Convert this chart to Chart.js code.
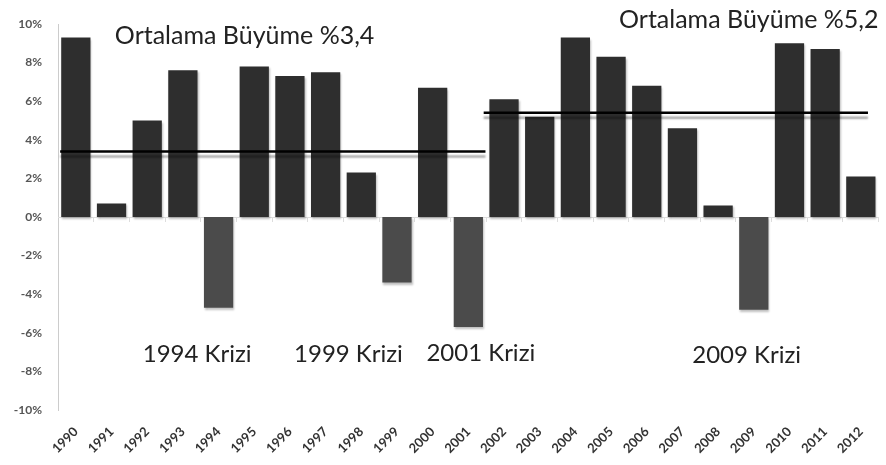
<!DOCTYPE html>
<html>
<head>
<meta charset="utf-8">
<script src="https://cdn.jsdelivr.net/npm/chart.js@4"></script>
<style>
  html, body { margin: 0; padding: 0; background: #fff; }
  #wrap { width: 886px; height: 465px; }
</style>
</head>
<body>
<div id="wrap"><canvas id="growthChart"></canvas></div>
<script>
// Yillar ve buyume oranlari (%)
const years = ['1990','1991','1992','1993','1994','1995','1996','1997','1998','1999','2000','2001',
               '2002','2003','2004','2005','2006','2007','2008','2009','2010','2011','2012'];
const growth = [9.3, 0.7, 5.0, 7.6, -4.7, 7.8, 7.3, 7.5, 2.3, -3.4, 6.7, -5.7,
                6.1, 5.2, 9.3, 8.3, 6.8, 4.6, 0.6, -4.8, 9.0, 8.7, 2.1];
const yTicks = [-10, -8, -6, -4, -2, 0, 2, 4, 6, 8, 10];

// ortalama cizgileri (x: kategori indeksi)
const avg1 = [{x: -0.44, y: 3.4}, {x: 11.48, y: 3.4}];
const avg2 = [{x: 11.43, y: 5.4}, {x: 22.2, y: 5.4}];

// metin notlari
const notes = [
  {text: 'Ortalama Büyüme %3,4', x: 4.73, y: 9.4, size: 25},
  {text: 'Ortalama Büyüme %5,2', x: 18.86, y: 10.2, size: 25},
  {text: '1994 Krizi', x: 3.4, y: -7.1, size: 24},
  {text: '1999 Krizi', x: 7.64, y: -7.1, size: 24},
  {text: '2001 Krizi', x: 11.35, y: -7.05, size: 24},
  {text: '2009 Krizi', x: 18.8, y: -7.15, size: 24}
];

const shadowPlugin = {
  id: 'shadow',
  beforeDatasetDraw(chart, args) {
    const ctx = chart.ctx;
    ctx.save();
    if (args.meta.type === 'line') {
      ctx.shadowColor = 'rgba(0,0,0,0.35)';
      ctx.shadowOffsetY = 5;
      ctx.shadowBlur = 2;
    } else {
      ctx.shadowColor = 'rgba(0,0,0,0.25)';
      ctx.shadowOffsetX = 1;
      ctx.shadowOffsetY = 2;
      ctx.shadowBlur = 2;
    }
  },
  afterDatasetDraw(chart) {
    chart.ctx.restore();
  }
};

const notesPlugin = {
  id: 'notes',
  afterDatasetsDraw(chart) {
    const ctx = chart.ctx;
    const xs = chart.scales.xl, ys = chart.scales.y;
    ctx.save();
    ctx.fillStyle = '#222';
    ctx.textAlign = 'center';
    ctx.textBaseline = 'middle';
    notes.forEach(n => {
      ctx.font = n.size + 'px Lato';
      ctx.fillText(n.text, xs.getPixelForValue(n.x), ys.getPixelForValue(n.y));
    });
    ctx.restore();
  }
};

new Chart(document.getElementById('growthChart'), {
  data: {
    labels: years,
    datasets: [
      {
        type: 'bar',
        data: growth,
        backgroundColor: growth.map(v => v < 0 ? '#4b4b4b' : '#2e2e2e'),
        grouped: false,
        barPercentage: 0.82,
        categoryPercentage: 1.0,
        order: 2
      },
      {
        type: 'line', xAxisID: 'xl', data: avg1,
        borderColor: '#000', borderWidth: 2.5, pointRadius: 0, order: 1
      },
      {
        type: 'line', xAxisID: 'xl', data: avg2,
        borderColor: '#000', borderWidth: 2.5, pointRadius: 0, order: 1
      }
    ]
  },
  options: {
    responsive: true,
    maintainAspectRatio: false,
    animation: false,
    events: [],
    layout: { padding: { top: 24, right: 6, left: 0, bottom: 0 } },
    plugins: { legend: { display: false }, tooltip: { enabled: false } },
    scales: {
      x: {
        offset: true,
        grid: { display: false, drawTicks: false },
        border: { display: false },
        ticks: { color: '#333', font: { family: 'Lato', size: 13, weight: 'bold' }, minRotation: 45, maxRotation: 45, padding: 14 },
        afterFit(s) { s.height = 55; }
      },
      xl: {
        type: 'linear', display: false, min: -0.5, max: 22.5, offset: false
      },
      y: {
        min: -10, max: 10,
        afterBuildTicks(s) { s.ticks = yTicks.map(v => ({value: v})); },
        grid: { display: false, drawOnChartArea: false, tickLength: 5, color: '#ccc' },
        border: { display: true, color: '#ccc' },
        ticks: { color: '#555', font: { family: 'Lato', size: 12, weight: 'bold' }, callback: v => v + '%', padding: 11 },
        afterFit(s) { s.width = 58; }
      },
      x0: {
        type: 'category', position: { y: 0 }, offset: true,
        grid: { offset: true, drawOnChartArea: false, tickLength: 4, color: '#ddd' },
        border: { display: true, color: '#ddd' },
        ticks: { display: false }
      }
    }
  },
  plugins: [shadowPlugin, notesPlugin]
});
</script>
</body>
</html>
